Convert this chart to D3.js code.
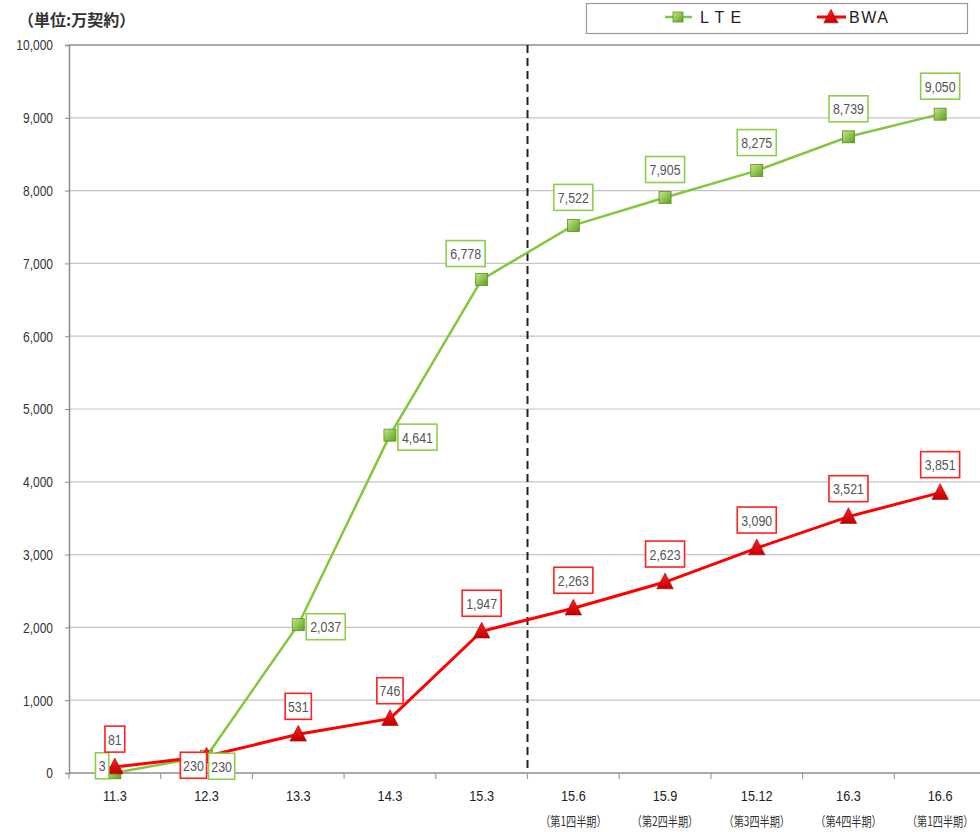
<!DOCTYPE html>
<html><head><meta charset="utf-8">
<script src="https://cdn.jsdelivr.net/npm/d3@7"></script>
<style>
body{margin:0;background:#fff;}
svg{display:block;}
.num{font-family:"Liberation Sans",Arial,sans-serif;}
</style></head><body>
<svg id="chart" width="980" height="832"></svg>
<script>
const categories = ["11.3","12.3","13.3","14.3","15.3","15.6","15.9","15.12","16.3","16.6"];
const subLabels = ["","","","","","（第1四半期）","（第2四半期）","（第3四半期）","（第4四半期）","（第1四半期）"];
const lteValues = [3,230,2037,4641,6778,7522,7905,8275,8739,9050];
const bwaValues = [81,230,531,746,1947,2263,2623,3090,3521,3851];
const lteLabelPlace = ["left-up","right-low","right","right","above-left","above","above","above","above","above"];
const bwaLabelPlace = ["above","left-low","above","above","above","above","above","above","above","above"];
const yTicks = [0,1000,2000,3000,4000,5000,6000,7000,8000,9000,10000];
const unitLabel = "（単位:万契約）";
const seriesNames = ["L T E","BWA"];

const svg = d3.select("#chart");
const M = {left:69, top:45, right:986, bottom:773};
const x = d3.scaleBand().domain(categories).range([M.left, M.right]);
const y = d3.scaleLinear().domain([0,10000]).range([M.bottom, M.top]);
const fmt = d3.format(",");
const cx = c => x(c) + x.bandwidth()/2;

function narrow(sel, f){
  sel.each(function(){
    const L = this.getComputedTextLength();
    if(L>0) d3.select(this).attr("textLength", L*f).attr("lengthAdjust","spacingAndGlyphs");
  });
}

const defs = svg.append("defs");
const gg = defs.append("linearGradient").attr("id","gsq").attr("x1",0).attr("y1",0).attr("x2",1).attr("y2",1);
gg.append("stop").attr("offset","0%").attr("stop-color","#c6e88a");
gg.append("stop").attr("offset","100%").attr("stop-color","#5f9e1e");
const rg = defs.append("linearGradient").attr("id","rtri").attr("x1",0).attr("y1",0).attr("x2",0).attr("y2",1);
rg.append("stop").attr("offset","0%").attr("stop-color","#ff2020");
rg.append("stop").attr("offset","100%").attr("stop-color","#c00000");

// gridlines
svg.append("g").selectAll("line").data(yTicks.filter(d=>d>0)).join("line")
  .attr("x1",M.left).attr("x2",980).attr("y1",d=>y(d)).attr("y2",d=>y(d))
  .attr("stroke",d=>d===10000?"#8c8c8c":"#c4c4c4").attr("stroke-width",d=>d===10000?1.5:1.2);

// y axis
const yAxis = svg.append("g").attr("transform",`translate(${M.left},0)`)
  .call(d3.axisLeft(y).tickValues(yTicks).tickFormat(fmt).tickSize(4).tickPadding(12));
yAxis.select(".domain").attr("stroke","#8c8c8c").attr("stroke-width",1.5);
yAxis.selectAll(".tick line").attr("stroke","#8c8c8c");
yAxis.selectAll("text").attr("class","num").attr("font-size",15).attr("fill","#333").call(narrow,0.8);

// x axis
const xAxis = svg.append("g").attr("transform",`translate(0,${M.bottom})`)
  .call(d3.axisBottom(x).tickSize(0).tickPadding(17));
xAxis.select(".domain").attr("stroke","#8c8c8c").attr("stroke-width",1.5).attr("d",`M${M.left},0H980`);
xAxis.selectAll("text").attr("class","num").attr("font-size",15.5).attr("fill","#222").call(narrow,0.82);
// boundary ticks
svg.append("g").selectAll("line").data(categories.map((c,i)=>i)).join("line")
  .attr("x1",i=>M.left+i*x.step()).attr("x2",i=>M.left+i*x.step())
  .attr("y1",M.bottom).attr("y2",M.bottom+6).attr("stroke","#9c9c9c").attr("stroke-width",1.2);
// sub labels (condensed via horizontal scale)
svg.append("g").selectAll("text").data(categories.map((c,i)=>({c,s:subLabels[i]})).filter(d=>d.s)).join("text")
  .attr("transform",d=>`translate(${cx(d.c)},826) scale(0.78,1)`).attr("text-anchor","middle")
  .attr("font-family","'Noto Sans CJK JP',sans-serif").attr("font-size",13).attr("fill","#333")
  .text(d=>d.s);

// dashed divider
const divX = x("15.6");
svg.append("line").attr("x1",divX).attr("x2",divX).attr("y1",M.top).attr("y2",M.bottom)
  .attr("stroke","#222").attr("stroke-width",2).attr("stroke-dasharray","8,5");

// unit label
svg.append("text").attr("x",18).attr("y",26).attr("font-family","'Noto Sans CJK JP',sans-serif")
  .attr("font-size",16).attr("font-weight","bold").attr("fill","#333").text(unitLabel);

// lines
const line = d3.line().x(d=>cx(d.c)).y(d=>y(d.v));
const lte = categories.map((c,i)=>({c,v:lteValues[i],p:lteLabelPlace[i]}));
const bwa = categories.map((c,i)=>({c,v:bwaValues[i],p:bwaLabelPlace[i]}));
svg.append("path").datum(lte).attr("d",line).attr("fill","none").attr("stroke","#86c63c").attr("stroke-width",2.5);
svg.append("path").datum(bwa).attr("d",line).attr("fill","none").attr("stroke","#ff0000").attr("stroke-width",3);

function square(g, px, py, s){
  g.append("rect").attr("x",px-s/2).attr("y",py-s/2).attr("width",s).attr("height",s)
    .attr("fill","url(#gsq)").attr("stroke","#5c8f22").attr("stroke-width",0.8);
}
function tri(g, px, py, s){
  g.append("path").attr("d",`M${px},${py-s*0.6}L${px+s*0.55},${py+s*0.45}L${px-s*0.55},${py+s*0.45}Z`)
    .attr("fill","url(#rtri)").attr("stroke","#b00000").attr("stroke-width",0.6);
}
const mk = svg.append("g");
lte.forEach(d=>square(mk, cx(d.c), y(d.v), 12));
bwa.forEach(d=>tri(mk, cx(d.c), y(d.v), 15));

// labels
function labelBox(d, color){
  const px = cx(d.c), py = y(d.v);
  const txt = fmt(d.v);
  const w = 7 + txt.length*6.4, h = 26;
  let bx, by;
  switch(d.p){
    case "above": bx = px - w/2; by = py - 28 - h/2; break;
    case "above-left": bx = px - 16 - w/2; by = py - 26 - h/2; break;
    case "right": bx = px + 8; by = py + 2 - h/2; break;
    case "right-low": bx = px + 2; by = py + 10 - h/2; break;
    case "left-up": bx = px - 6 - w; by = py - 7 - h/2; break;
    case "left-low": bx = px - w; by = py + 9 - h/2; break;
  }
  const g = svg.append("g");
  g.append("rect").attr("x",bx).attr("y",by).attr("width",w).attr("height",h)
    .attr("fill","#fff").attr("stroke",color).attr("stroke-width",1.6);
  g.append("text").attr("class","num").attr("x",bx+w/2).attr("y",by+h/2+5.5)
    .attr("text-anchor","middle").attr("font-size",15.5).attr("fill","#555").text(txt).call(narrow,0.8);
}
lte.forEach(d=>labelBox(d,"#8ccf4a"));
bwa.forEach(d=>labelBox(d,"#ff2020"));

// legend
const lg = svg.append("g");
lg.append("rect").attr("x",586.5).attr("y",3.5).attr("width",381).attr("height",30)
  .attr("fill","#fff").attr("stroke","#9a9a9a").attr("stroke-width",1.2);
lg.append("line").attr("x1",665).attr("x2",692).attr("y1",17).attr("y2",17).attr("stroke","#86c63c").attr("stroke-width",2.5);
square(lg, 678, 17, 10);
lg.append("text").attr("x",700).attr("y",23).attr("font-family","'Liberation Sans',Arial,sans-serif")
  .attr("font-size",16).attr("fill","#222").attr("letter-spacing",1).text(seriesNames[0]);
lg.append("line").attr("x1",817).attr("x2",846).attr("y1",17).attr("y2",17).attr("stroke","#ff0000").attr("stroke-width",3);
tri(lg, 831, 17, 13);
lg.append("text").attr("x",849).attr("y",23).attr("font-family","'Liberation Sans',Arial,sans-serif")
  .attr("font-size",16).attr("fill","#222").attr("letter-spacing",1.5).text(seriesNames[1]);
</script>
</body></html>
